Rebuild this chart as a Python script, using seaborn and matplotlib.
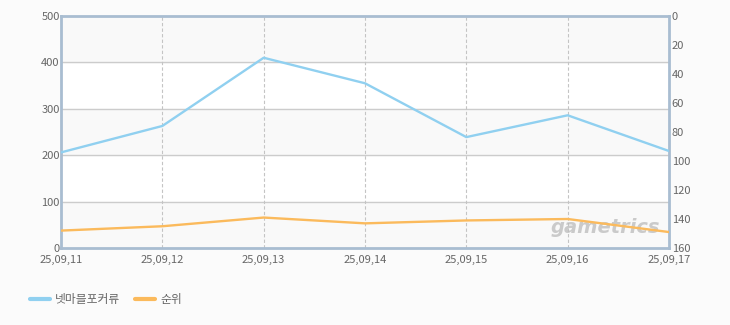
import matplotlib
matplotlib.use("Agg")
import matplotlib.pyplot as plt
import seaborn as sns
import pandas as pd

dates = ["25,09,11", "25,09,12", "25,09,13", "25,09,14", "25,09,15", "25,09,16", "25,09,17"]
users = [206, 263, 410, 355, 239, 286, 209]
rank = [148, 145, 139, 143, 141, 140, 149]
series_names = ["넷마블포커류", "순위"]
left_ticks = [0, 100, 200, 300, 400, 500]
right_ticks = [0, 20, 40, 60, 80, 100, 120, 140, 160]

sns.set_style("white")
plt.rcParams['font.family'] = ['Noto Sans CJK KR', 'DejaVu Sans']

blue = "#90d0f0"
orange = "#fbba5c"
axis_col = "#a9bdd1"
text_col = "#666666"

df = pd.DataFrame({"x": range(len(dates)), "users": users, "rank": rank})

fig = plt.figure(figsize=(7.3, 3.25), dpi=100, facecolor="#fbfbfb")
ax = fig.add_axes([61/730, 1-248/325, 608/730, 232/325])
ax.set_facecolor("#ffffff")

# alternating bands
for lo in range(0, 500, 200):
    ax.axhspan(lo, lo+100, color="#f9f9f9", zorder=0)
ax.axhspan(400, 500, color="#f9f9f9", zorder=0)

sns.lineplot(data=df, x="x", y="users", ax=ax, color=blue, lw=1.7, zorder=3)
ax.set_xlim(0, len(dates)-1)
ax.set_ylim(0, 500)
ax.set_yticks(left_ticks)
ax.set_xticks(range(len(dates)))
ax.set_xticklabels(dates)
for y in left_ticks[1:-1]:
    ax.axhline(y, color="#cccccc", lw=1, zorder=1)
for x in range(1, len(dates)-1):
    ax.axvline(x, color="#c4c4c4", lw=0.8, ls=(0, (3, 2)), zorder=1)
ax.set_xlabel("")
ax.set_ylabel("")
ax.tick_params(axis="x", length=0, labelsize=8, colors=text_col, pad=5)
ax.tick_params(axis="y", length=0, labelsize=8, colors=text_col, pad=1)
for s in ax.spines.values():
    s.set_color(axis_col)
    s.set_linewidth(2)

ax2 = ax.twinx()
sns.lineplot(data=df, x="x", y="rank", ax=ax2, color=orange, lw=1.7, zorder=3)
ax2.set_ylim(160, 0)
ax2.set_yticks(right_ticks)
ax2.set_ylabel("")
ax2.tick_params(axis="y", length=0, labelsize=8, colors=text_col, pad=2)
for s in ax2.spines.values():
    s.set_visible(False)

# watermark
ax2.text(0.895, 0.09, "gametrics", transform=ax.transAxes, ha="center", va="center",
         fontsize=14, fontstyle="italic", fontweight="bold", color="#bbbbbb", alpha=0.75,
         family=["DejaVu Sans"], zorder=2)

# legend
fig.lines.append(plt.Line2D([30/730, 50/730], [1-299/325]*2, color=blue, lw=3, transform=fig.transFigure))
fig.text(55/730, 1-299/325, series_names[0], fontsize=8.5, color=text_col, va="center")
fig.lines.append(plt.Line2D([135/730, 155/730], [1-299/325]*2, color=orange, lw=3, transform=fig.transFigure))
fig.text(160/730, 1-299/325, series_names[1], fontsize=8.5, color=text_col, va="center")

fig.savefig("out.png", dpi=100, facecolor=fig.get_facecolor())
